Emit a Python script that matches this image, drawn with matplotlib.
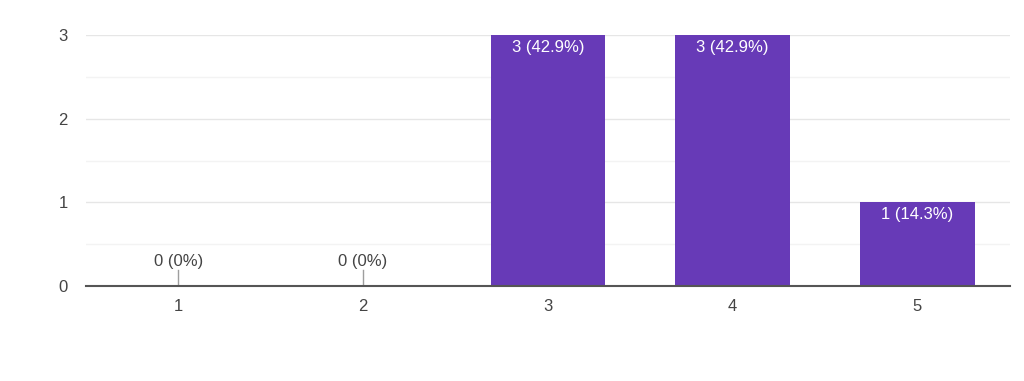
import matplotlib
matplotlib.use('Agg')
import matplotlib.pyplot as plt

# Response counts per rating
ratings = ['1', '2', '3', '4', '5']
counts = [0, 0, 3, 3, 1]
total = sum(counts)

plt.rcParams['font.family'] = ['Liberation Sans', 'DejaVu Sans']

fig = plt.figure(figsize=(10.24, 3.81), dpi=100)
ax = fig.add_axes([0.084, 0.249, 0.902, 0.659])

x = list(range(1, len(ratings) + 1))
ax.bar(x, counts, width=0.62, color='#673ab7', zorder=3)

for xi, c in zip(x, counts):
    pct = 100 * c / total
    pct_txt = '0%' if c == 0 else f'{pct:.1f}%'
    label = f'{c} ({pct_txt})'
    if c == 0:
        ax.plot([xi, xi], [0, 0.19], color='#9e9e9e', lw=1, zorder=4)
        ax.text(xi, 0.2, label, ha='center', va='bottom', color='#444444', fontsize=12)
    else:
        ax.text(xi, c - 0.055, label, ha='center', va='top', color='white', fontsize=12, zorder=5)

ax.set_xlim(0.5, len(ratings) + 0.5)
ax.set_ylim(0, 3)
ax.set_xticks(x)
ax.set_xticklabels(ratings)
ax.set_yticks([0, 1, 2, 3])
ax.set_yticks([0.5, 1.5, 2.5], minor=True)
ax.grid(axis='y', which='major', color='#e6e6e6', lw=1, zorder=0)
ax.grid(axis='y', which='minor', color='#f3f3f3', lw=1, zorder=0)
ax.tick_params(axis='both', which='both', length=0, labelsize=12, labelcolor='#444444')
ax.tick_params(axis='x', pad=9)
ax.tick_params(axis='y', pad=13)
for s in ['top', 'right', 'left']:
    ax.spines[s].set_visible(False)
ax.spines['bottom'].set_color('#555555')
ax.spines['bottom'].set_linewidth(1.5)
ax.spines['bottom'].set_zorder(6)

fig.savefig('out.png', dpi=100, facecolor='white')
